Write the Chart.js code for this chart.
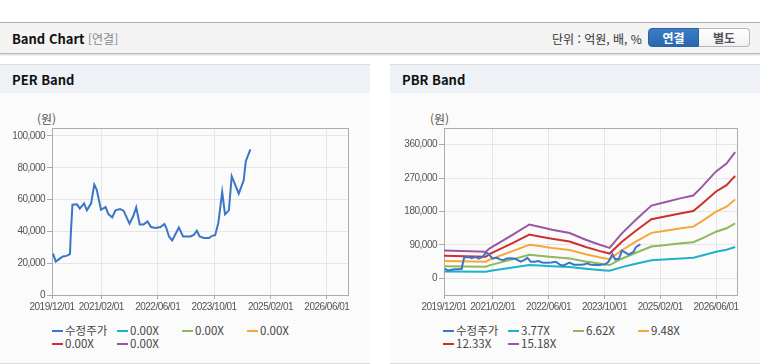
<!DOCTYPE html>
<html lang="ko">
<head>
<meta charset="utf-8">
<script src="https://cdn.jsdelivr.net/npm/chart.js@4.4.1/dist/chart.umd.min.js"></script>
<style>
    body { margin: 0; width: 760px; height: 364px; background: #fff; position: relative; overflow: hidden; font-family: 'Noto Sans CJK KR', sans-serif; }
    .top-bar { position: absolute; left: 0; top: 22px; width: 760px; height: 30px; background: #f4f4f4; border-top: 1px solid #b0b0b0; border-bottom: 1px solid #b8b8b8; box-shadow: 0 1px 2px rgba(0,0,0,0.18); }
    .top-title { position: absolute; left: 12px; top: 6px; font-size: 13px; font-weight: bold; color: #111; }
    .top-sub { position: absolute; left: 88px; top: 7px; font-size: 12px; color: #888; }
    .unit { position: absolute; left: 552px; top: 7px; font-size: 12px; color: #333; }
    .btn { position: absolute; top: 5px; height: 19px; width: 51px; box-sizing: border-box; font-size: 12px; font-weight: bold; text-align: center; line-height: 17px; }
    .btn-on { left: 648px; background: linear-gradient(#3a7dc6, #2a67ad); color: #fff; border: 1px solid #2a62a5; border-radius: 4px 0 0 4px; }
    .btn-off { left: 699px; background: linear-gradient(#fff, #f1f1f1); color: #555; border: 1px solid #b8b8b8; border-left: none; border-radius: 0 4px 4px 0; }
    .panel { position: absolute; top: 64px; width: 370px; height: 298px; background: #fbfbfb; border-top: 1px solid #dcdcdc; border-bottom: 1px solid #dcdcdc; }
    .panel-head { height: 28px; background: #eef2f7; font-size: 13px; font-weight: bold; color: #111; padding-left: 12px; line-height: 29px; }
    .unit-label { position: absolute; top: 45px; font-size: 12px; color: #555; }
    .panel canvas { position: absolute; left: 0; top: 55px; }
    .legend { position: absolute; top: 259px; display: grid; grid-template-columns: repeat(4, 65px); grid-auto-rows: 13.3px; font-size: 11.5px; color: #444; line-height: 13px; }
    .legend span.mark { display: inline-block; width: 11px; height: 2px; vertical-align: middle; margin-right: 2px; position: relative; top: -1px; }
</style>
</head>
<body>
<div class="top-bar">
    <span class="top-title">Band Chart</span>
    <span class="top-sub">[연결]</span>
    <span class="unit">단위 : 억원, 배, %</span>
    <div class="btn btn-on">연결</div>
    <div class="btn btn-off">별도</div>
</div>

<div class="panel" id="per-panel" style="left: 0;">
    <div class="panel-head">PER Band</div>
    <div class="unit-label" style="left: 37px;">(원)</div>
    <canvas id="perChart" width="370" height="198"></canvas>
    <div class="legend" id="per-legend" style="left: 52px;"></div>
</div>

<div class="panel" id="pbr-panel" style="left: 390px;">
    <div class="panel-head">PBR Band</div>
    <div class="unit-label" style="left: 40px;">(원)</div>
    <canvas id="pbrChart" width="370" height="198"></canvas>
    <div class="legend" id="pbr-legend" style="left: 53px;"></div>
</div>

<script>
// 수정주가
const priceDates = [
    '2019/12/10', '2020/01/03', '2020/02/07', '2020/03/04', '2020/04/04', '2020/05/04', '2020/05/10', '2020/05/25',
    '2020/07/04', '2020/07/28', '2020/09/04', '2020/09/28', '2020/11/04', '2020/12/01', '2020/12/22', '2021/01/28',
    '2021/03/07', '2021/04/01', '2021/05/04', '2021/06/01', '2021/07/10', '2021/08/10', '2021/10/01', '2021/11/04',
    '2021/11/28', '2021/12/28', '2022/02/01', '2022/03/04', '2022/04/04', '2022/05/10', '2022/06/25', '2022/07/28',
    '2022/08/13', '2022/09/07', '2022/10/04', '2022/12/01', '2023/01/07', '2023/03/10', '2023/04/10', '2023/05/04',
    '2023/05/28', '2023/07/04', '2023/08/19', '2023/09/13', '2023/10/10', '2023/11/07', '2023/12/10', '2024/01/04',
    '2024/02/07', '2024/03/01', '2024/05/01', '2024/06/13', '2024/07/01', '2024/08/10'
];
const priceValues = [
    26000, 21000, 22900, 24200, 24600, 25700, 36800, 56800,
    57000, 54300, 57600, 53200, 57600, 69400, 66200, 53600,
    55300, 50900, 48800, 53200, 54000, 53000, 44800, 49800,
    55100, 44400, 44400, 46300, 42700, 42100, 42700, 44600,
    42400, 36800, 34300, 42400, 36800, 36800, 37900, 40400,
    36800, 35800, 35800, 37200, 37600, 45200, 64800, 50700,
    53200, 74700, 63700, 72100, 84100, 91500
];

// BPS (PBR 밴드 기준)
const bandDates = [
    '2019/12/01', '2020/12/01', '2021/01/01', '2021/07/20', '2021/12/15', '2022/03/10', '2022/07/01',
    '2022/12/01', '2023/04/20', '2023/08/15', '2023/11/15', '2024/03/01', '2024/07/01', '2024/11/15',
    '2025/03/01', '2025/08/01', '2025/11/15', '2026/02/01', '2026/06/01', '2026/09/01', '2026/11/15'
];
const bpsValues = [
    4921, 4710, 5270, 7708, 9552, 9157, 8630,
    8037, 6851, 5995, 5402, 7971, 10408, 12912,
    13439, 14229, 14690, 16271, 18972, 20356, 22398
];

const pbrMultiples = [3.77, 6.62, 9.48, 12.33, 15.18];
const perLabels = ['0.00X', '0.00X', '0.00X', '0.00X', '0.00X'];

const xTickLabels = ['2019/12/01', '2021/02/01', '2022/06/01', '2023/10/01', '2025/02/01', '2026/06/01'];
const xEnd = '2026/12/01';
const perTicks = [0, 20000, 40000, 60000, 80000, 100000];
const pbrTicks = [0, 90000, 180000, 270000, 360000];

const priceColor = '#3a76c8';
const bandColors = ['#1eb2c6', '#8dba58', '#f4a83a', '#d02f2f', '#9a57a5'];

// months since 2019/12/01
function toMonth(s) {
    const [y, m, d] = s.split('/').map(Number);
    return (y - 2019) * 12 + (m - 12) + (d - 1) / 30;
}

const pricePoints = priceDates.map((d, i) => ({ x: toMonth(d), y: priceValues[i] }));

// tick labels are narrow in the original, tighten them a bit
const tightText = {
    id: 'tightText',
    beforeUpdate(chart) { chart.ctx.letterSpacing = '-0.5px'; },
    beforeDraw(chart) { chart.ctx.letterSpacing = '-0.5px'; }
};

const framePlugin = {
    id: 'frame',
    beforeDatasetsDraw(chart) {
        const a = chart.chartArea;
        const ctx = chart.ctx;
        ctx.save();
        ctx.strokeStyle = '#acacac';
        ctx.lineWidth = 1;
        ctx.strokeRect(Math.round(a.left) + 0.5, Math.round(a.top) + 0.5, Math.round(a.right - a.left), Math.round(a.bottom - a.top));
        ctx.restore();
    }
};

function lineSet(label, data, color) {
    return {
        label: label,
        data: data,
        borderColor: color,
        backgroundColor: color,
        borderWidth: 2,
        pointRadius: 0,
        tension: 0,
        fill: false
    };
}

function makeChart(id, datasets, yMin, yMax, yTicks, yWidth, padRight) {
    const tickFont = { family: "'Liberation Sans', sans-serif", size: 10 };
    return new Chart(document.getElementById(id), {
        type: 'line',
        data: { datasets: datasets },
        options: {
            responsive: false,
            animation: false,
            devicePixelRatio: 1,
            layout: { padding: { top: 8, right: padRight, left: 0, bottom: 0 } },
            plugins: { legend: { display: false }, tooltip: { enabled: false } },
            scales: {
                x: {
                    type: 'linear',
                    min: 0,
                    max: toMonth(xEnd),
                    afterBuildTicks: axis => { axis.ticks = xTickLabels.map(t => ({ value: toMonth(t) })); },
                    afterFit: axis => { axis.height = 23; },
                    ticks: {
                        autoSkip: false,
                        maxRotation: 0,
                        padding: 2,
                        color: '#555',
                        font: tickFont,
                        callback: (v, i) => xTickLabels[i]
                    },
                    grid: { color: '#e6e6e6', tickColor: '#acacac', tickLength: 4 },
                    border: { display: false }
                },
                y: {
                    min: yMin,
                    max: yMax,
                    afterBuildTicks: axis => { axis.ticks = yTicks.map(v => ({ value: v })); },
                    afterFit: axis => { axis.width = yWidth; },
                    ticks: {
                        padding: 2,
                        color: '#555',
                        font: tickFont,
                        callback: v => v.toLocaleString('en-US')
                    },
                    grid: { color: '#e6e6e6', tickColor: '#acacac', tickLength: 5 },
                    border: { display: false }
                }
            }
        },
        plugins: [tightText, framePlugin]
    });
}

function renderLegend(id, labels, colors) {
    document.getElementById(id).innerHTML = labels.map((l, i) => `
        <div><span class="mark" style="background: ${colors[i]}"></span>${l}</div>
    `).join('');
}

// PER Band
const perSets = [lineSet('수정주가', pricePoints, priceColor)]
    .concat(perLabels.map((l, i) => lineSet(l, [], bandColors[i])));
makeChart('perChart', perSets, 0, 105000, perTicks, 52, 22);
renderLegend('per-legend', ['수정주가'].concat(perLabels), [priceColor].concat(bandColors));

// PBR Band
const pbrLabels = pbrMultiples.map(m => m.toFixed(2) + 'X');
const pbrSets = [lineSet('수정주가', pricePoints, priceColor)]
    .concat(pbrMultiples.map((m, i) => lineSet(pbrLabels[i],
        bandDates.map((d, j) => ({ x: toMonth(d), y: bpsValues[j] * m })), bandColors[i])));
makeChart('pbrChart', pbrSets, -45000, 405000, pbrTicks, 54, 23);
renderLegend('pbr-legend', ['수정주가'].concat(pbrLabels), [priceColor].concat(bandColors));
</script>
</body>
</html>
